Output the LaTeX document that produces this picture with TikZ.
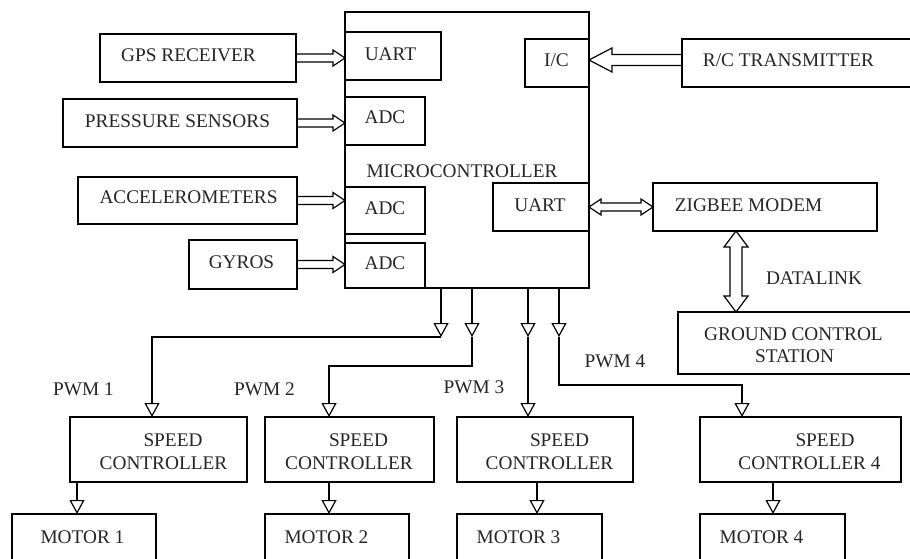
\documentclass[tikz,border=0pt]{standalone}
\usepackage{fontspec}
\setmainfont{Liberation Serif}
\usetikzlibrary{arrows.meta,calc}
\newcommand{\harrow}[5]{%
 \coordinate (hA) at (#1); \coordinate (hB) at (#2);
 \coordinate (hH) at ($(hB)!#5pt!(hA)$);
 \draw[hollow] ($(hA)!#3pt!90:(hB)$) -- ($(hH)!#3pt!-90:(hA)$) -- ($(hH)!#4pt!-90:(hA)$) -- (hB) -- ($(hH)!#4pt!90:(hA)$) -- ($(hH)!#3pt!90:(hA)$) -- ($(hA)!#3pt!-90:(hB)$);
}
\newcommand{\hdarrow}[5]{%
 \coordinate (hA) at (#1); \coordinate (hB) at (#2);
 \coordinate (hHa) at ($(hA)!#5pt!(hB)$);
 \coordinate (hHb) at ($(hB)!#5pt!(hA)$);
 \draw[hollow] (hA) -- ($(hHa)!#4pt!90:(hB)$) -- ($(hHa)!#3pt!90:(hB)$) -- ($(hHb)!#3pt!-90:(hA)$) -- ($(hHb)!#4pt!-90:(hA)$) -- (hB) -- ($(hHb)!#4pt!90:(hA)$) -- ($(hHb)!#3pt!90:(hA)$) -- ($(hHa)!#3pt!-90:(hB)$) -- ($(hHa)!#4pt!-90:(hB)$) -- cycle;
}
\begin{document}
\begin{tikzpicture}[x=1pt,y=-1pt,
  box/.style={draw, line width=1.6pt, inner sep=0pt, outer sep=0pt, anchor=north west},
  txt/.style={inner sep=0pt, anchor=base, text=black!85, font=\fontsize{19.3}{22}\selectfont},
  conn/.style={line width=1.2pt},
  tri/.style={conn, -{Triangle[open, width=15pt, length=14pt]}},
  hollow/.style={line width=1.2pt, line join=miter}]
\useasboundingbox (0,0) rectangle (910,559);
\clip (0,0) rectangle (910,559);
\fill[white] (0,0) rectangle (910,559);

% boxes
\node[box, minimum width=196pt, minimum height=48pt] (gps) at (100,34) {};
\node[box, minimum width=234pt, minimum height=48pt] (pres) at (63,99) {};
\node[box, minimum width=219pt, minimum height=47pt] (acc) at (78,177) {};
\node[box, minimum width=108pt, minimum height=49pt] (gyro) at (189,240) {};
\node[box, minimum width=244pt, minimum height=276pt] (mc) at (345,12) {};
\node[box, minimum width=96pt, minimum height=48pt] (uartL) at (345,32) {};
\node[box, minimum width=80pt, minimum height=48pt] (adc1) at (345,97) {};
\node[box, minimum width=80pt, minimum height=47pt] (adc2) at (345,187) {};
\node[box, minimum width=80pt, minimum height=45pt] (adc3) at (345,243) {};
\node[box, minimum width=64pt, minimum height=48pt] (ic) at (525,39) {};
\node[box, minimum width=248pt, minimum height=48pt] (rc) at (682,39) {};
\node[box, minimum width=96pt, minimum height=48pt] (uartR) at (493,183) {};
\node[box, minimum width=224pt, minimum height=48pt] (zig) at (653,183) {};
\node[box, minimum width=252pt, minimum height=62pt] (gcs) at (678,312) {};
\node[box, minimum width=177pt, minimum height=65pt] (sc1) at (70,417) {};
\node[box, minimum width=169pt, minimum height=65pt] (sc2) at (265,417) {};
\node[box, minimum width=176pt, minimum height=65pt] (sc3) at (457,417) {};
\node[box, minimum width=201pt, minimum height=65pt] (sc4) at (700,417) {};
\node[box, minimum width=144pt, minimum height=66pt] (m1) at (12,514) {};
\node[box, minimum width=144pt, minimum height=66pt] (m2) at (265,514) {};
\node[box, minimum width=145pt, minimum height=66pt] (m3) at (457,514) {};
\node[box, minimum width=145pt, minimum height=66pt] (m4) at (700,514) {};

% texts
\node[txt] (tgps) at (188.5,62) {GPS RECEIVER};
\node[txt] (tuartL) at (390.5,61) {UART};
\node[txt] (tpres) at (177.5,128) {PRESSURE SENSORS};
\node[txt] (tadc1) at (385,124) {ADC};
\node[txt] (tmc) at (462,177) {MICROCONTROLLER};
\node[txt] (tacc) at (188.5,203) {ACCELEROMETERS};
\node[txt] (tadc2) at (385,214) {ADC};
\node[txt] (tgyro) at (241.5,268) {GYROS};
\node[txt] (tadc3) at (385,269) {ADC};
\node[txt] (tic) at (556.5,67) {I/C};
\node[txt] (trc) at (788.5,67) {R/C TRANSMITTER};
\node[txt] (tuartR) at (540,211) {UART};
\node[txt] (tzig) at (748.5,211) {ZIGBEE MODEM};
\node[txt] (tdl) at (814,284) {DATALINK};
\node[txt] (tgcs1) at (793.5,340) {GROUND CONTROL};
\node[txt] (tgcs2) at (794.5,362) {STATION};
\node[txt] (tpwm1) at (83.5,395) {PWM 1};
\node[txt] (tpwm2) at (264.5,395) {PWM 2};
\node[txt] (tpwm3) at (474,393) {PWM 3};
\node[txt] (tpwm4) at (615,367) {PWM 4};
\node[txt] (tsc1a) at (173,446) {SPEED};
\node[txt] (tsc1b) at (163.5,469) {CONTROLLER};
\node[txt] (tsc2a) at (358.5,446) {SPEED};
\node[txt] (tsc2b) at (349,469) {CONTROLLER};
\node[txt] (tsc3a) at (559.5,446) {SPEED};
\node[txt] (tsc3b) at (549.5,469) {CONTROLLER};
\node[txt] (tsc4a) at (825,446) {SPEED};
\node[txt] (tsc4b) at (809.5,469) {CONTROLLER 4};
\node[txt] (tm1) at (82.5,543) {MOTOR 1};
\node[txt] (tm2) at (326.5,543) {MOTOR 2};
\node[txt] (tm3) at (518.5,543) {MOTOR 3};
\node[txt] (tm4) at (761.5,543) {MOTOR 4};

% hollow arrows
\harrow{gps.east}{gps.east -| mc.west}{4}{8}{12}
\harrow{pres.east}{pres.east -| mc.west}{4}{8}{12}
\harrow{acc.east}{acc.east -| mc.west}{4}{8}{12}
\harrow{gyro.east}{gyro.east -| mc.west}{4}{8}{12}
\harrow{$(rc.west)+(0,-3)$}{$(ic.east)+(0,-3)$}{5.5}{12}{23}
\hdarrow{uartR.east}{zig.west}{4}{8}{12}
\coordinate (dl) at (736,0);
\hdarrow{zig.south -| dl}{gcs.north -| dl}{6}{12}{16}

% PWM lines
\coordinate (t1) at (441,337);
\coordinate (t2) at (472,337);
\coordinate (t3) at (528,337);
\coordinate (t4) at (559,337);
\coordinate (p1) at (152,0);
\coordinate (p2) at (329,0);
\coordinate (p4) at (742,0);
\coordinate (j2) at (472,366);
\coordinate (j4) at (559,385);
\draw[tri] (mc.south -| t1) -- (t1);
\draw[tri] (mc.south -| t2) -- (t2);
\draw[tri] (mc.south -| t3) -- (t3);
\draw[tri] (mc.south -| t4) -- (t4);
\draw[tri] (t1) -| (sc1.north -| p1);
\draw[tri] (t2) -- (j2) -| (sc2.north -| p2);
\draw[tri] (t3) -- (sc3.north -| t3);
\draw[tri] (t4) -- (j4) -| (sc4.north -| p4);

% speed controller to motor
\coordinate (k1) at (77,0);
\coordinate (k2) at (329,0);
\coordinate (k3) at (537,0);
\coordinate (k4) at (773,0);
\draw[tri] (sc1.south -| k1) -- (m1.north -| k1);
\draw[tri] (sc2.south -| k2) -- (m2.north -| k2);
\draw[tri] (sc3.south -| k3) -- (m3.north -| k3);
\draw[tri] (sc4.south -| k4) -- (m4.north -| k4);
\end{tikzpicture}
\end{document}
